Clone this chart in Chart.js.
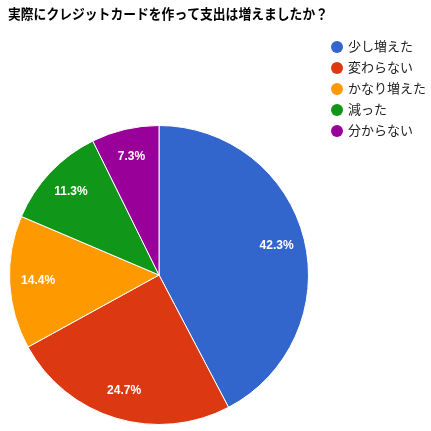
<!DOCTYPE html>
<html>
<head>
<meta charset="utf-8">
<script src="https://cdn.jsdelivr.net/npm/chart.js@4"></script>
<style>
  html, body { margin: 0; padding: 0; background: #fff; }
  #wrap { width: 431px; height: 431px; }
</style>
</head>
<body>
<div id="wrap"><canvas id="c" width="431" height="431"></canvas></div>
<script>
// survey answers, in drawing order (clockwise from 12 o'clock)
const title = "実際にクレジットカードを作って支出は増えましたか？";
const labels = ["少し増えた", "変わらない", "かなり増えた", "減った", "分からない"];
const shares = [42.3, 24.7, 14.4, 11.3, 7.3];
const colors = ["#3366cc", "#dc3912", "#ff9900", "#109618", "#990099"];

const FONT = "Arial, 'Liberation Sans', 'Noto Sans CJK JP', sans-serif";

// percentage text inside each slice, ~0.81 of radius out
const sliceLabels = {
  id: "sliceLabels",
  afterDatasetsDraw(chart) {
    const ctx = chart.ctx;
    const meta = chart.getDatasetMeta(0);
    ctx.save();
    ctx.fillStyle = "#fff";
    ctx.font = "bold 12px " + FONT;
    ctx.textAlign = "center";
    ctx.textBaseline = "middle";
    meta.data.forEach((arc, i) => {
      const { x, y, startAngle, endAngle, outerRadius } =
        arc.getProps(["x", "y", "startAngle", "endAngle", "outerRadius"], true);
      const mid = (startAngle + endAngle) / 2;
      const r = outerRadius * 0.81;
      ctx.fillText(shares[i].toFixed(1) + "%", x + Math.cos(mid) * r, y + Math.sin(mid) * r);
    });
    ctx.restore();
  },
};

// title top-left + legend in the top right corner, round markers
const header = {
  id: "header",
  afterDraw(chart) {
    const ctx = chart.ctx;
    ctx.save();
    ctx.textBaseline = "middle";
    ctx.fillStyle = "#000";
    ctx.font = "bold 14px " + FONT;
    // stretch to the reference width (text ends near x=328)
    const w = ctx.measureText(title).width;
    ctx.save();
    ctx.translate(8, 15);
    ctx.scale(320 / w, 1);
    ctx.fillText(title, 0, 0);
    ctx.restore();

    ctx.font = "13px " + FONT;
    labels.forEach((lab, i) => {
      const y = 47 + i * 21;
      ctx.fillStyle = colors[i];
      ctx.beginPath();
      ctx.arc(337, y, 6, 0, Math.PI * 2);
      ctx.fill();
      ctx.fillStyle = "#222";
      ctx.fillText(lab, 348, y);
    });
    ctx.restore();
  },
};

new Chart(document.getElementById("c"), {
  type: "pie",
  data: {
    labels,
    datasets: [{
      data: shares,
      backgroundColor: colors,
      borderColor: "#fff",
      borderWidth: 1,
    }],
  },
  options: {
    responsive: false,
    animation: false,
    layout: { padding: { left: 9, right: 122, top: 125, bottom: 6 } },
    plugins: {
      legend: { display: false },
      tooltip: { enabled: false },
      title: { display: false },
    },
  },
  plugins: [sliceLabels, header],
});
</script>
</body>
</html>
